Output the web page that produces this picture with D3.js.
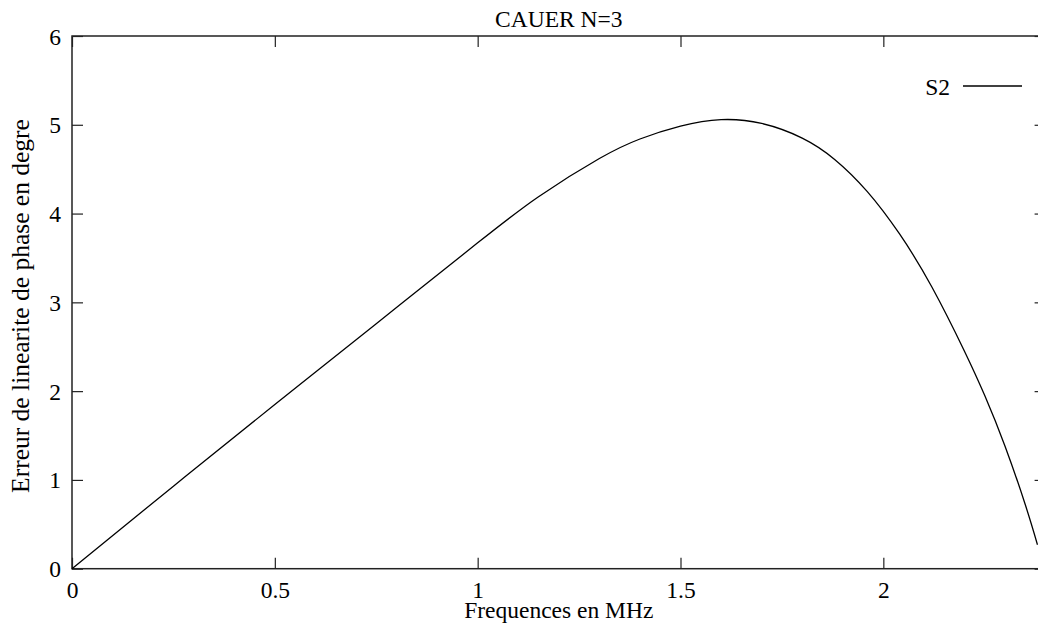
<!DOCTYPE html>
<html>
<head>
<meta charset="utf-8">
<script src="https://cdn.jsdelivr.net/npm/d3@7"></script>
<style>
  html, body { margin: 0; padding: 0; background: #fff; }
  svg { display: block; }
  text { font-family: "Liberation Serif", "DejaVu Serif", serif; fill: #000; }
</style>
</head>
<body>
<svg id="chart" width="1038" height="627"></svg>
<script>
// ---- data ----
const title = "CAUER N=3";
const xLabel = "Frequences en MHz";
const yLabel = "Erreur de linearite de phase en degre";
const seriesName = "S2";
const freq = [0, 0.25, 0.5, 0.75, 1.0, 1.15, 1.3, 1.4, 1.5, 1.6, 1.7, 1.8, 1.88, 1.96, 2.04, 2.12, 2.2, 2.25, 2.3, 2.35, 2.38];
const erreur = [0, 0.93, 1.85, 2.76, 3.67, 4.19, 4.62, 4.84, 4.985, 5.058, 5.015, 4.85, 4.61, 4.25, 3.77, 3.17, 2.45, 1.95, 1.38, 0.72, 0.27];
const xTicks = [0, 0.5, 1, 1.5, 2];
const yTicks = [0, 1, 2, 3, 4, 5, 6];
const xDomain = [0, 2.4];
const yDomain = [0, 6];

(function () {
const svg = d3.select("#chart");
const L = 72, R = 1045.6, T = 36, B = 568.7;
const x = d3.scaleLinear().domain(xDomain).range([L, R]);
const y = d3.scaleLinear().domain(yDomain).range([B, T]);
const fs = 23.5;
const tickLen = 11;

svg.append("rect").attr("x", L).attr("y", T).attr("width", R - L).attr("height", B - T)
  .attr("fill", "none").attr("stroke", "#222").attr("stroke-width", 1.5);

const fmt = d => String(d);
const gBottom = svg.append("g").attr("transform", `translate(0,${B})`)
  .call(d3.axisBottom(x).tickValues(xTicks).tickFormat(fmt).tickSizeInner(-tickLen).tickSizeOuter(0).tickPadding(13));
const gTop = svg.append("g").attr("transform", `translate(0,${T})`)
  .call(d3.axisTop(x).tickValues(xTicks).tickFormat("").tickSizeInner(-tickLen).tickSizeOuter(0));
const gLeft = svg.append("g").attr("transform", `translate(${L},0)`)
  .call(d3.axisLeft(y).tickValues(yTicks).tickFormat(fmt).tickSizeInner(-tickLen).tickSizeOuter(0).tickPadding(11));
const gRight = svg.append("g").attr("transform", `translate(${R},0)`)
  .call(d3.axisRight(y).tickValues(yTicks).tickFormat("").tickSizeInner(-tickLen).tickSizeOuter(0));

[gBottom, gTop, gLeft, gRight].forEach(g => {
  g.select(".domain").remove();
  g.selectAll(".tick line").attr("stroke", "#222").attr("stroke-width", 1.2);
  g.selectAll(".tick text")
    .style("font-family", '"Liberation Serif", serif')
    .style("font-size", fs + "px").attr("fill", "#000");
});
gLeft.selectAll(".tick text").attr("dy", "0.34em");
gBottom.selectAll(".tick text").attr("dy", "0.71em");

const line = d3.line().x((d, i) => x(freq[i])).y(d => y(d)).curve(d3.curveNatural);
svg.append("path").datum(erreur).attr("d", line)
  .attr("fill", "none").attr("stroke", "#000").attr("stroke-width", 1.3);

svg.append("text").attr("x", (L + R) / 2).attr("y", 27).attr("text-anchor", "middle")
  .style("font-size", fs + "px").text(title);
svg.append("text").attr("x", (L + R) / 2).attr("y", 618).attr("text-anchor", "middle")
  .style("font-size", fs + "px").text(xLabel);
svg.append("text").attr("transform", `translate(29,306) rotate(-90)`)
  .attr("text-anchor", "middle").style("font-size", "25.5px").text(yLabel);

svg.append("text").attr("x", 950).attr("y", 95).attr("text-anchor", "end")
  .style("font-size", fs + "px").text(seriesName);
svg.append("line").attr("x1", 963).attr("x2", 1022).attr("y1", 86).attr("y2", 86)
  .attr("stroke", "#000").attr("stroke-width", 1.3);
})();
</script>
</body>
</html>
